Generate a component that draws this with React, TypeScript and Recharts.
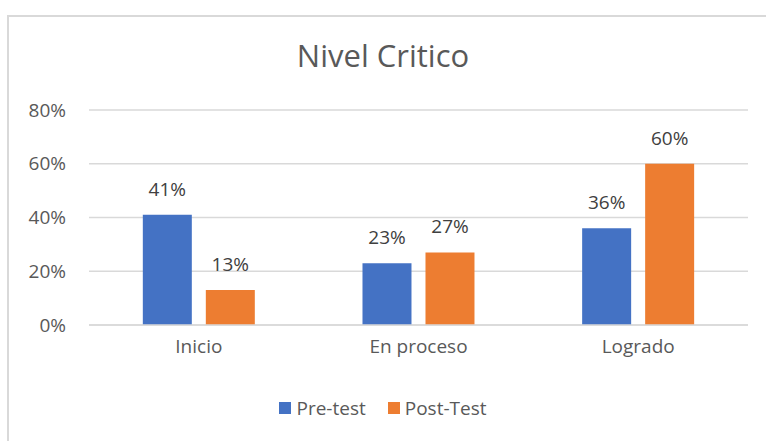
import React from 'react';
import { BarChart, Bar, XAxis, YAxis, CartesianGrid, LabelList } from 'recharts';

const categories = ['Inicio', 'En proceso', 'Logrado'];
const preTest = [0.41, 0.23, 0.36];
const postTest = [0.13, 0.27, 0.6];
const yTicks = [0, 0.2, 0.4, 0.6, 0.8];

const series = [
  { key: 'pre', name: 'Pre-test', color: '#4472C4' },
  { key: 'post', name: 'Post-Test', color: '#ED7D31' },
];

const data = categories.map((name, i) => ({ name, pre: preTest[i], post: postTest[i] }));

const FONT = '"Open Sans", "Noto Sans", sans-serif';
const TXT = '#595959';
const pct = (v: number) => `${Math.round(v * 100)}%`;

export default function App() {
  return (
    <div style={{ position: 'absolute', left: 0, top: 0, width: 766, height: 441, background: '#fff', fontFamily: FONT, overflow: 'hidden' }}>
      <div
        style={{
          position: 'absolute',
          left: 7,
          top: 15,
          width: 780,
          height: 440,
          border: '2px solid #d9d9d9',
          boxSizing: 'border-box',
        }}
      />
      <div
        style={{
          position: 'absolute',
          left: 0,
          width: 766,
          top: 33,
          textAlign: 'center',
          fontSize: 31,
          color: TXT,
          lineHeight: '44px',
        }}
      >
        Nivel Critico
      </div>
      <div style={{ position: 'absolute', left: 0, top: 0 }}>
        <BarChart
          width={766}
          height={441}
          data={data}
          margin={{ top: 110, right: 18, bottom: 86, left: 0 }}
          barCategoryGap="24.5%"
          barGap={14}
        >
          <CartesianGrid vertical={false} stroke="#d9d9d9" strokeWidth={1.5} />
          <XAxis
            dataKey="name"
            height={30}
            axisLine={{ stroke: '#d9d9d9', strokeWidth: 1.5 }}
            tickLine={false}
            tickMargin={9}
            tick={{ fill: TXT, fontSize: 19, fontFamily: FONT }}
          />
          <YAxis
            width={89}
            domain={[0, 0.8]}
            ticks={yTicks}
            tickFormatter={pct}
            axisLine={false}
            tickLine={false}
            tickMargin={17}
            tick={{ fill: TXT, fontSize: 19, fontFamily: FONT }}
          />
          {series.map((s) => (
            <Bar key={s.key} dataKey={s.key} name={s.name} fill={s.color} isAnimationActive={false}>
              <LabelList
                dataKey={s.key}
                position="top"
                offset={19}
                formatter={(v: number) => pct(v)}
                style={{ fill: '#404040', fontSize: 19, fontFamily: FONT }}
              />
            </Bar>
          ))}
        </BarChart>
      </div>
      <div
        style={{
          position: 'absolute',
          left: 0,
          width: 766,
          top: 395,
          display: 'flex',
          justifyContent: 'center',
          alignItems: 'center',
          gap: 22,
          fontSize: 19,
          color: TXT,
        }}
      >
        {series.map((s) => (
          <div key={s.key} style={{ display: 'flex', alignItems: 'center', gap: 5 }}>
            <span style={{ display: 'inline-block', width: 12, height: 12, background: s.color }} />
            <span>{s.name}</span>
          </div>
        ))}
      </div>
    </div>
  );
}
